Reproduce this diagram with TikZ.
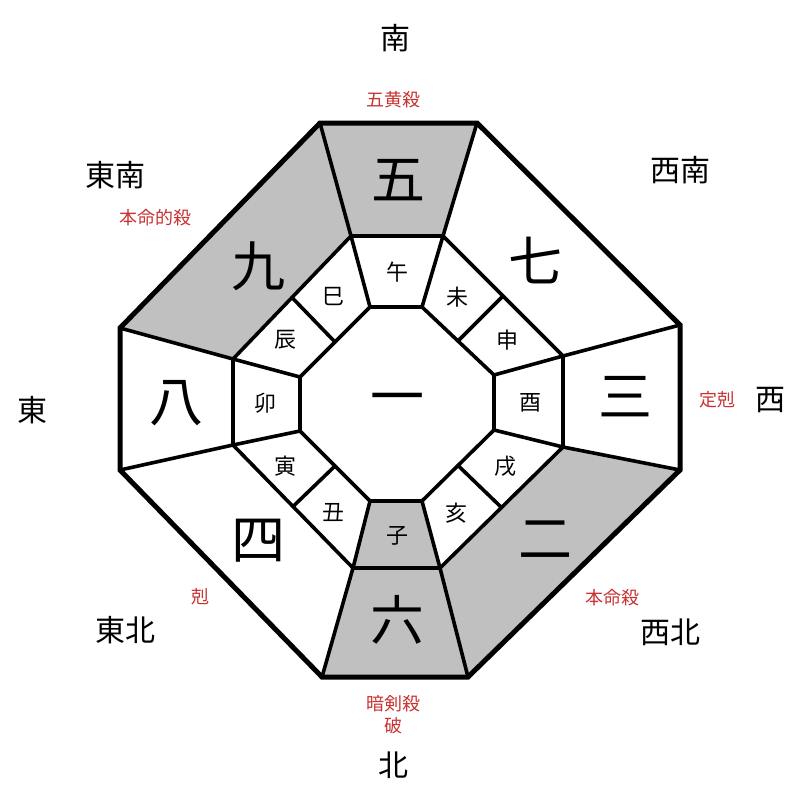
\documentclass[tikz,border=0pt]{standalone}
\usepackage{fontspec}
\newfontfamily\jp{Noto Sans CJK JP}
\usetikzlibrary{positioning,calc}
\definecolor{fillgray}{RGB}{192,192,192}
\definecolor{markred}{RGB}{200,50,50}
\tikzset{
  wall/.style={line width=5pt, line join=miter},
  edge/.style={line width=3.6pt},
  bignum/.style={font=\jp\fontsize{54}{54}\selectfont},
  branch/.style={font=\jp\fontsize{22}{22}\selectfont},
  dir/.style={font=\jp\fontsize{30}{30}\selectfont},
  redmark/.style={font=\jp\fontsize{18}{22}\selectfont, text=markred, align=center},
}
\begin{document}
\begin{tikzpicture}[x=1pt,y=-1pt]
\useasboundingbox (0,0) rectangle (800,800);
%%% outer octagon
\coordinate (o1) at (320,123); \coordinate (o2) at (477,123);
\coordinate (o3) at (680,325); \coordinate (o4) at (680,470);
\coordinate (o5) at (468,677); \coordinate (o6) at (322,677);
\coordinate (o7) at (120,470); \coordinate (o8) at (120,328);
%%% middle octagon
\coordinate (m1) at (351,236); \coordinate (m2) at (443,236);
\coordinate (m3) at (563,356); \coordinate (m4) at (563,447);
\coordinate (m5) at (440,568); \coordinate (m6) at (353,568);
\coordinate (m7) at (233,445); \coordinate (m8) at (233,359);
%%% inner octagon
\coordinate (i1) at (370,307); \coordinate (i2) at (422,307);
\coordinate (i3) at (494,375); \coordinate (i4) at (494,430);
\coordinate (i5) at (422,501); \coordinate (i6) at (370,501);
\coordinate (i7) at (300,431); \coordinate (i8) at (300,377);
%%% grey sectors
\fill[fillgray] (o1) -- (o2) -- (m2) -- (m1) -- cycle;
\fill[fillgray] (o8) -- (o1) -- (m1) -- (m8) -- cycle;
\fill[fillgray] (o4) -- (o5) -- (m5) -- (m4) -- cycle;
\fill[fillgray] (o5) -- (o6) -- (m6) -- (m5) -- cycle;
\fill[fillgray] (m5) -- (m6) -- (i6) -- (i5) -- cycle;
%%% rings
\draw[wall] (o1) -- (o2) -- (o3) -- (o4) -- (o5) -- (o6) -- (o7) -- (o8) -- cycle;
\draw[edge] (m1) -- (m2) -- (m3) -- (m4) -- (m5) -- (m6) -- (m7) -- (m8) -- cycle;
\draw[edge] (i1) -- (i2) -- (i3) -- (i4) -- (i5) -- (i6) -- (i7) -- (i8) -- cycle;
%%% spokes
\foreach \k in {1,...,8} {
  \draw[edge] (o\k) -- (m\k);
  \draw[edge] (m\k) -- (i\k);
}
\draw[edge] ($(i2)!0.5!(i3)$) -- ($(m2)!0.5!(m3)$);
\draw[edge] ($(i4)!0.5!(i5)$) -- ($(m4)!0.5!(m5)$);
\draw[edge] ($(i6)!0.5!(i7)$) -- ($(m6)!0.5!(m7)$);
\draw[edge] ($(i8)!0.5!(i1)$) -- ($(m8)!0.5!(m1)$);
%%% numbers
\node[bignum] (n1) at (397,405) {一};
\node[bignum] (n5) at (398,180) {五};
\node[bignum] (n9) at (258,266) {九};
\node[bignum] (n7) at (535,260) {七};
\node[bignum] (n8) at (176,403) {八};
\node[bignum] (n3) at (625,397) {三};
\node[bignum] (n4) at (258,541) {四};
\node[bignum] (n2) at (545,540) {二};
\node[bignum] (n6) at (397,620) {六};
%%% branches
\node[branch] (uma) at (397,272) {午};
\node[branch] (hitsuji) at (457,297) {未};
\node[branch] (saru) at (507,340) {申};
\node[branch] (tori) at (530,403) {酉};
\node[branch] (inu) at (505,466) {戌};
\node[branch] (i) at (456,513) {亥};
\node[branch] (ne) at (397,536) {子};
\node[branch] (ushi) at (333,513) {丑};
\node[branch] (tora) at (285,466) {寅};
\node[branch] (u) at (265,403) {卯};
\node[branch] (tatsu) at (285,340) {辰};
\node[branch] (mi) at (333,297) {巳};
%%% directions
\node[dir] (south) at (395,38) {南};
\node[dir] (southeast) at (115,175) {東南};
\node[dir] (southwest) at (680,170) {西南};
\node[dir] (east) at (32,410) {東};
\node[dir] (west) at (770,400) {西};
\node[dir] (northeast) at (125,630) {東北};
\node[dir] (northwest) at (670,632) {西北};
\node[dir] (north) at (393,765) {北};
%%% marks
\node[redmark] (gooh) at (393,100) {五黄殺};
\node[redmark] (honmeiteki) at (155,218) {本命的殺};
\node[redmark] (teikoku) at (717,400) {定剋};
\node[redmark] (koku) at (200,597) {剋};
\node[redmark] (honmei) at (612,598) {本命殺};
\node[redmark] (anken) at (393,715) {暗剣殺\\破};
\end{tikzpicture}
\end{document}
